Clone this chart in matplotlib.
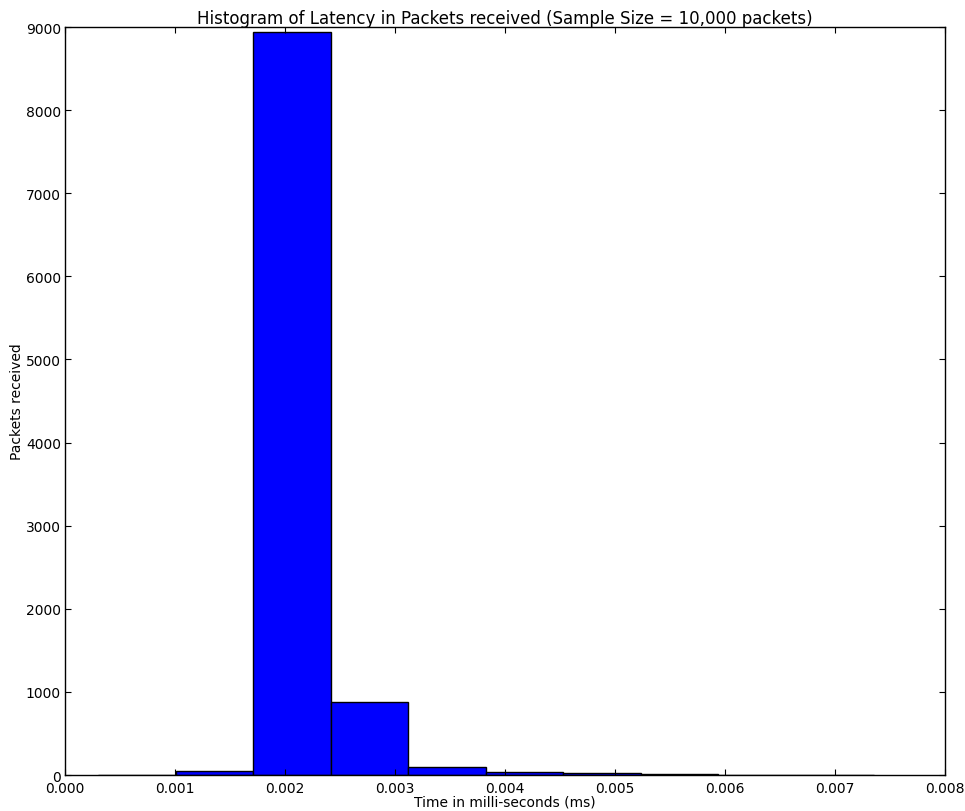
import matplotlib
matplotlib.use("Agg")
import matplotlib.pyplot as plt
import numpy as np
from matplotlib.ticker import FormatStrFormatter, MultipleLocator

# Histogram bin edges (ms) and packet counts per bin
bin_edges = [0.00030, 0.001005, 0.00171, 0.002415, 0.00312, 0.003825,
             0.00453, 0.005235, 0.00594, 0.006645, 0.00735]
counts = [2, 48, 8944, 882, 93, 32, 22, 12, 6, 2]

title = "Histogram of Latency in Packets received (Sample Size = 10,000 packets)"
xlabel = "Time in milli-seconds (ms)"
ylabel = "Packets received"

plt.rcParams["font.family"] = "DejaVu Sans"

fig = plt.figure(figsize=(9.65, 8.12), dpi=100)
ax = fig.add_axes([0.0674, 0.0443, 0.9119, 0.9212])

edges = np.array(bin_edges)
ax.bar(edges[:-1], counts, width=np.diff(edges), align="edge",
       color="#0000ff", edgecolor="black", linewidth=1.0)

ax.set_xlim(0, 0.008)
ax.set_ylim(0, 9000)
ax.xaxis.set_major_locator(MultipleLocator(0.001))
ax.yaxis.set_major_locator(MultipleLocator(1000))
ax.xaxis.set_major_formatter(FormatStrFormatter("%.3f"))

ax.tick_params(direction="in", top=True, right=True, length=4,
               width=0.8, labelsize=10, pad=4)
ax.tick_params(axis="y", pad=3)
for s in ax.spines.values():
    s.set_linewidth(1.0)

ax.set_title(title, fontsize=12, pad=3)
ax.set_xlabel(xlabel, fontsize=10, labelpad=0)
ax.set_ylabel(ylabel, fontsize=10, labelpad=1)

fig.savefig("out.png", dpi=100)
